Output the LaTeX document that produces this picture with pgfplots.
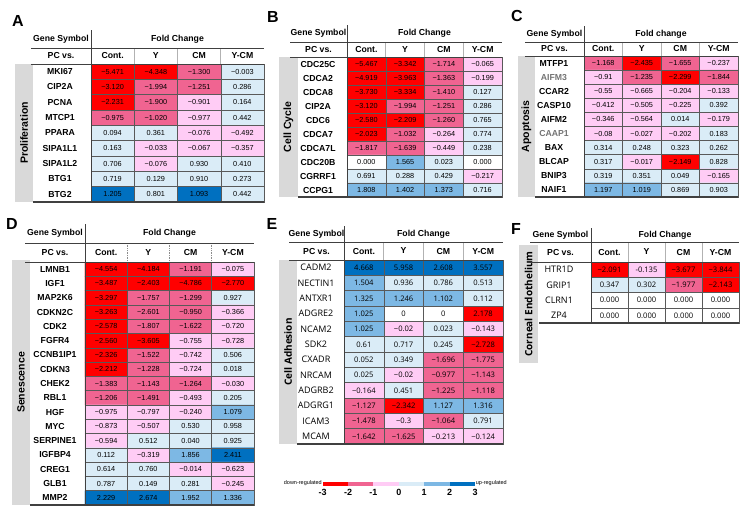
\documentclass[border=0pt]{standalone}
\usepackage{fontspec}
\setmainfont{Liberation Sans}
\newfontfamily\osans{Open Sans}
\usepackage{pgfplots}
\pgfplotsset{compat=1.18}
\usepackage{pgfplotstable}

\definecolor{bandgray}{RGB}{217,217,217}
\definecolor{cR}{RGB}{255,0,0}
\definecolor{cMP}{RGB}{240,100,145}
\definecolor{cLP}{RGB}{255,204,245}
\definecolor{cLB}{RGB}{218,236,247}
\definecolor{cMB}{RGB}{125,184,228}
\definecolor{cDB}{RGB}{0,112,192}

\newcommand{\numA}{\fontsize{7.3}{8}\selectfont}
\newcommand{\numE}{\osans\fontsize{7.6}{8}\selectfont}
\newcommand{\geneA}{\bfseries\fontsize{8.7}{10}\selectfont}
\newcommand{\geneE}{\osans\fontsize{9}{10}\selectfont}
\newcommand{\hfont}{\bfseries\fontsize{8.7}{10}\selectfont}
\newcommand{\bandA}{\bfseries\fontsize{10.5}{12}\selectfont}
\newcommand{\bandE}{\osans\bfseries\fontsize{10}{12}\selectfont}

% colour class per cell: 0 red, 1 pink, 2 light pink, 3 white, 4 light blue, 5 blue, 6 dark blue
\pgfplotsset{
  hm/.style n args={3}{% last row index, shift of gene names, gene font
    scale only axis, anchor=north west,
    xmin=-0.5, xmax=3.5, ymin=-0.5, ymax=#1+0.5, y dir=reverse,
    axis on top,
    xtick={0.5,1.5,2.5}, xticklabels={,,}, xmajorgrids,
    ytick={0,...,#1}, minor ytick={0.5,1.5,...,#1}, yminorgrids,
    grid style={black!65, line width=0.5pt},
    axis line style={black!65, line width=0.5pt},
    major tick length=0pt, minor tick length=0pt,
    yticklabel style={anchor=center, xshift=-#2pt, font=#3},
    colormap={fc}{rgb255=(255,0,0) rgb255=(240,100,145) rgb255=(255,204,245)
      rgb255=(255,255,255) rgb255=(218,236,247) rgb255=(125,184,228) rgb255=(0,112,192)},
  },
  cells/.style={matrix plot*, mesh/cols=4, point meta=explicit, colormap access=direct},
  vals/.style={only marks, mark=text, text mark={},
    point meta=explicit symbolic, nodes near coords,
    nodes near coords style={anchor=center, font=#1, text=black}},
}
% cell position from the row number of the long table (4 cells per gene)
\newcommand{\cx}{\coordindex-4*floor((\coordindex+0.5)/4)}
\newcommand{\cy}{floor((\coordindex+0.5)/4)}

% one line per gene: Cont., Y, CM, Y-CM  (class, label)
\pgfplotstableread[row sep=\\]{
c l\\
0 −5.471\\ 0 −4.348\\ 1 −1.300\\ 4 −0.003\\
0 −3.120\\ 1 −1.994\\ 1 −1.251\\ 4 0.286\\
0 −2.231\\ 1 −1.900\\ 2 −0.901\\ 4 0.164\\
1 −0.975\\ 1 −1.020\\ 2 −0.977\\ 4 0.442\\
4 0.094\\ 4 0.361\\ 2 −0.076\\ 2 −0.492\\
4 0.163\\ 2 −0.033\\ 2 −0.067\\ 2 −0.357\\
4 0.706\\ 2 −0.076\\ 4 0.930\\ 4 0.410\\
4 0.719\\ 4 0.129\\ 4 0.910\\ 4 0.273\\
6 1.205\\ 4 0.801\\ 6 1.093\\ 4 0.442\\
}\tA

\pgfplotstableread[row sep=\\]{
c l\\
0 −5.467\\ 0 −3.342\\ 1 −1.714\\ 2 −0.065\\
0 −4.919\\ 0 −3.963\\ 1 −1.363\\ 2 −0.199\\
0 −3.730\\ 0 −3.334\\ 1 −1.410\\ 4 0.127\\
0 −3.120\\ 1 −1.994\\ 1 −1.251\\ 4 0.286\\
0 −2.580\\ 0 −2.209\\ 1 −1.260\\ 4 0.765\\
0 −2.023\\ 1 −1.032\\ 2 −0.264\\ 4 0.774\\
1 −1.817\\ 1 −1.639\\ 2 −0.449\\ 4 0.238\\
3 0.000\\ 5 1.565\\ 4 0.023\\ 3 0.000\\
4 0.691\\ 4 0.288\\ 4 0.429\\ 2 −0.217\\
5 1.808\\ 5 1.402\\ 5 1.373\\ 4 0.716\\
}\tB

\pgfplotstableread[row sep=\\]{
c l\\
1 −1.168\\ 0 −2.435\\ 1 −1.655\\ 2 −0.237\\
2 −0.91\\ 1 −1.235\\ 0 −2.299\\ 1 −1.844\\
2 −0.55\\ 2 −0.665\\ 2 −0.204\\ 2 −0.133\\
2 −0.412\\ 2 −0.505\\ 2 −0.225\\ 4 0.392\\
2 −0.346\\ 2 −0.564\\ 4 0.014\\ 2 −0.179\\
2 −0.08\\ 2 −0.027\\ 2 −0.202\\ 4 0.183\\
4 0.314\\ 4 0.248\\ 4 0.323\\ 4 0.262\\
4 0.317\\ 2 −0.017\\ 0 −2.149\\ 4 0.828\\
4 0.319\\ 4 0.351\\ 4 0.049\\ 2 −0.165\\
5 1.197\\ 5 1.019\\ 4 0.869\\ 4 0.903\\
}\tC

\pgfplotstableread[row sep=\\]{
c l\\
0 −4.554\\ 0 −4.184\\ 1 −1.191\\ 2 −0.075\\
0 −3.487\\ 0 −2.403\\ 0 −4.786\\ 0 −2.770\\
0 −3.297\\ 1 −1.757\\ 1 −1.299\\ 4 0.927\\
0 −3.263\\ 1 −2.601\\ 1 −0.950\\ 2 −0.366\\
0 −2.578\\ 1 −1.807\\ 1 −1.622\\ 2 −0.720\\
0 −2.560\\ 0 −3.605\\ 2 −0.755\\ 2 −0.728\\
0 −2.326\\ 1 −1.522\\ 2 −0.742\\ 4 0.506\\
0 −2.212\\ 1 −1.228\\ 2 −0.724\\ 4 0.018\\
1 −1.383\\ 1 −1.143\\ 1 −1.264\\ 2 −0.030\\
1 −1.206\\ 1 −1.491\\ 2 −0.493\\ 4 0.205\\
2 −0.975\\ 2 −0.797\\ 2 −0.240\\ 5 1.079\\
2 −0.873\\ 2 −0.507\\ 4 0.530\\ 4 0.958\\
2 −0.594\\ 4 0.512\\ 4 0.040\\ 4 0.925\\
4 0.112\\ 2 −0.319\\ 5 1.856\\ 6 2.411\\
4 0.614\\ 4 0.760\\ 2 −0.014\\ 2 −0.623\\
4 0.787\\ 4 0.149\\ 4 0.281\\ 2 −0.245\\
6 2.229\\ 6 2.674\\ 5 1.952\\ 5 1.336\\
}\tD

\pgfplotstableread[row sep=\\]{
c l\\
6 4.668\\ 6 5.958\\ 6 2.608\\ 6 3.557\\
5 1.504\\ 4 0.936\\ 4 0.786\\ 4 0.513\\
5 1.325\\ 5 1.246\\ 5 1.102\\ 4 0.112\\
5 1.025\\ 3 0\\ 3 0\\ 0 2.178\\
5 1.025\\ 2 −0.02\\ 4 0.023\\ 2 −0.143\\
4 0.61\\ 4 0.717\\ 4 0.245\\ 0 −2.728\\
4 0.052\\ 4 0.349\\ 1 −1.696\\ 1 −1.775\\
4 0.025\\ 2 −0.02\\ 1 −0.977\\ 1 −1.143\\
2 −0.164\\ 4 0.451\\ 1 −1.225\\ 1 −1.118\\
1 −1.127\\ 0 −2.342\\ 5 1.127\\ 5 1.316\\
1 −1.478\\ 2 −0.3\\ 1 −1.064\\ 4 0.791\\
1 −1.642\\ 1 −1.625\\ 2 −0.213\\ 2 −0.124\\
}\tE

\pgfplotstableread[row sep=\\]{
c l\\
0 −2.091\\ 2 -0.135\\ 0 −3.677\\ 0 −3.844\\
4 0.347\\ 4 0.302\\ 1 −1.977\\ 0 −2.143\\
3 0.000\\ 3 0.000\\ 3 0.000\\ 3 0.000\\
3 0.000\\ 3 0.000\\ 3 0.000\\ 3 0.000\\
}\tF

% header block of a table: left, cells left, cells right, top, mid, data top, bottom, names left, title
\newcommand{\tblhead}[9]{%
  \node[font=\hfont] at ({(#1+#2)/2},{(#4+#5)/2}) {Gene Symbol};
  \node[font=\hfont] at ({(#2+#3)/2},{(#4+#5)/2}) {#9};
  \node[font=\hfont] at ({(#1+#2)/2},{(#5+#6)/2}) {PC vs.};
  \foreach \i/\lab in {0/Cont.,1/Y,2/CM,3/Y-CM}
    \node[font=\hfont] at ({#2+(\i+0.5)*(#3-#2)/4},{(#5+#6)/2}) {\lab};
  \foreach \i in {1,2,3}
    \draw[sep] ({#2+\i*(#3-#2)/4},#5) -- ({#2+\i*(#3-#2)/4},#6);
  \draw[black!75, line width=1pt] (#1,#5) -- (#3,#5);
  \draw[black!75, line width=1pt] (#1,#6) -- (#3,#6);
  \draw[black!75, line width=1.2pt] (#8,#7) -- (#3,#7);
  \draw[black!75, line width=1pt] (#2,#4) -- (#2,#7);
}

\begin{document}
\begin{tikzpicture}[x=1pt,y=-1pt]
\path[use as bounding box] (0,0) rectangle (753,515);
\tikzset{sep/.style={black!30, line width=0.8pt}}

% A
\begin{axis}[hm={8}{31}{\geneA}, at={(91pt,-64pt)}, width=173pt, height=138pt,
  yticklabels={MKI67,CIP2A,PCNA,MTCP1,PPARA,SIPA1L1,SIPA1L2,BTG1,BTG2}]
\addplot[cells] table[x expr=\cx, y expr=\cy, meta=c]{\tA};
\addplot[vals=\numA] table[x expr=\cx, y expr=\cy, meta=l]{\tA};
\end{axis}

% B
\begin{axis}[hm={9}{29}{\geneA}, at={(347pt,-57pt)}, width=155pt, height=140pt,
  yticklabels={CDC25C,CDCA2,CDCA8,CIP2A,CDC6,CDCA7,CDCA7L,CDC20B,CGRRF1,CCPG1}]
\addplot[cells] table[x expr=\cx, y expr=\cy, meta=c]{\tB};
\addplot[vals=\numA] table[x expr=\cx, y expr=\cy, meta=l]{\tB};
\end{axis}

% C
\begin{axis}[hm={9}{30}{\geneA}, at={(584pt,-56pt)}, width=154pt, height=141pt,
  yticklabels={MTFP1,{\color{black!55}AIFM3},CCAR2,CASP10,AIFM2,{\color{black!55}CAAP1},BAX,BLCAP,BNIP3,NAIF1}]
\addplot[cells] table[x expr=\cx, y expr=\cy, meta=c]{\tC};
\addplot[vals=\numA] table[x expr=\cx, y expr=\cy, meta=l]{\tC};
\end{axis}

% D
\begin{axis}[hm={16}{30}{\geneA}, at={(85pt,-262pt)}, width=169pt, height=243pt,
  yticklabels={LMNB1,IGF1,MAP2K6,CDKN2C,CDK2,FGFR4,CCNB1IP1,CDKN3,CHEK2,RBL1,HGF,MYC,SERPINE1,IGFBP4,CREG1,GLB1,MMP2}]
\addplot[cells] table[x expr=\cx, y expr=\cy, meta=c]{\tD};
\addplot[vals=\numA] table[x expr=\cx, y expr=\cy, meta=l]{\tD};
\end{axis}

% E
\begin{axis}[hm={11}{28}{\geneE}, at={(344pt,-260pt)}, width=159pt, height=184pt,
  yticklabels={CADM2,NECTIN1,ANTXR1,ADGRE2,NCAM2,SDK2,CXADR,NRCAM,ADGRB2,ADGRG1,ICAM3,MCAM}]
\addplot[cells] table[x expr=\cx, y expr=\cy, meta=c]{\tE};
\addplot[vals=\numE] table[x expr=\cx, y expr=\cy, meta=l]{\tE};
\end{axis}

% F
\begin{axis}[hm={3}{32}{\geneE}, at={(591pt,-262pt)}, width=148pt, height=61pt,
  yticklabels={HTR1D,GRIP1,CLRN1,ZP4}]
\addplot[cells] table[x expr=\cx, y expr=\cy, meta=c]{\tF};
\addplot[vals=\numE] table[x expr=\cx, y expr=\cy, meta=l]{\tF};
\end{axis}

% colour key
\begin{axis}[at={(322.7pt,-481.5pt)}, anchor=north west, scale only axis,
  width=152.3pt, height=4pt, xmin=-3, xmax=3, ymin=0, ymax=1,
  axis line style={draw=none}, ytick=\empty, xtick={-3,...,3},
  xticklabels={-3,-2,-1,0,1,2,3}, major tick length=0pt,
  xticklabel style={font=\bfseries\fontsize{9}{10}\selectfont, inner sep=1pt, yshift=-2.5pt}]
\fill[cR]  (axis cs:-3,0) rectangle (axis cs:-2,1);
\fill[cMP] (axis cs:-2,0) rectangle (axis cs:-1,1);
\fill[cLP] (axis cs:-1,0) rectangle (axis cs:0,1);
\fill[cLB] (axis cs:0,0) rectangle (axis cs:1,1);
\fill[cMB] (axis cs:1,0) rectangle (axis cs:2,1);
\fill[cDB] (axis cs:2,0) rectangle (axis cs:3,1);
\end{axis}
\node[anchor=east, font=\fontsize{5.5}{6}\selectfont, inner sep=0.5pt] at (322.5,483.5) {down-regulated};
\node[anchor=west, font=\fontsize{5.5}{6}\selectfont, inner sep=0.5pt] at (475.2,483.5) {up-regulated};

% side bands
\fill[bandgray] (15,64) rectangle (33,202);
\node[rotate=90, font=\bandA] at (24,133) {Proliferation};
\fill[bandgray] (279,57) rectangle (298,197);
\node[rotate=90, font=\bandA] at (288.5,127) {Cell Cycle};
\fill[bandgray] (518,56) rectangle (535,197);
\node[rotate=90, font=\bandA] at (526.5,126.5) {Apoptosis};
\fill[bandgray] (12,260) rectangle (30,505);
\node[rotate=90, font=\bandA] at (21,382.5) {Senescence};
\fill[bandgray] (279,260) rectangle (297,444);
\node[rotate=90, font=\bandE] at (288,352) {Cell Adhesion};
\fill[bandgray] (519,245) rectangle (538,363);
\node[rotate=90, font=\bandE] at (528.5,304) {Corneal Endothelium};

% headers
\tblhead{31}{91}{264}{30}{48}{64}{202}{33}{Fold Change}
\tblhead{290}{347}{502}{25}{42}{57}{197}{298}{Fold Change}
\tblhead{525}{584}{738}{26}{42}{56}{197}{535}{Fold change}
\tikzset{sep/.style={black!45, line width=0.7pt, densely dotted}}
\tblhead{25}{85}{254}{224}{243}{262}{505}{30}{Fold Change}
\tikzset{sep/.style={black!30, line width=0.8pt}}
\tblhead{289}{344}{503}{226}{242}{260}{444}{297}{Fold Change}
\tblhead{530}{591}{739}{228}{242}{262}{323}{539}{Fold Change}

% panel letters
\node[font=\bfseries\fontsize{16}{16}\selectfont] at (18,21) {A};
\node[font=\bfseries\fontsize{16}{16}\selectfont] at (273,17) {B};
\node[font=\bfseries\fontsize{16}{16}\selectfont] at (517,16) {C};
\node[font=\bfseries\fontsize{16}{16}\selectfont] at (12,224) {D};
\node[font=\bfseries\fontsize{16}{16}\selectfont] at (272,224) {E};
\node[font=\bfseries\fontsize{16}{16}\selectfont] at (516,229) {F};
\end{tikzpicture}
\end{document}
